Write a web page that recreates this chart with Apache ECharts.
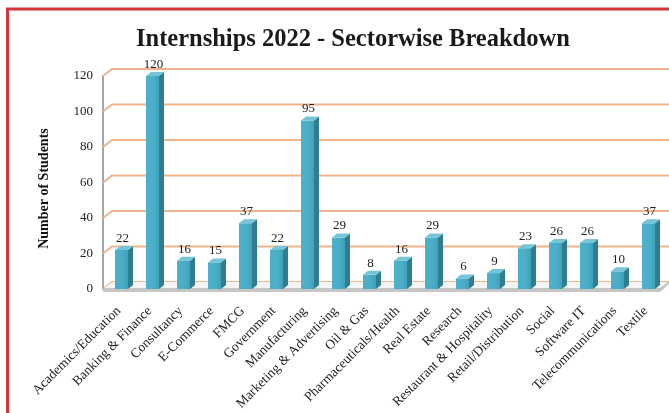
<!DOCTYPE html>
<html>
<head>
<meta charset="utf-8">
<script src="https://cdn.jsdelivr.net/npm/echarts@6/dist/echarts.min.js"></script>
<style>html,body{margin:0;padding:0;background:#fff;}#c{width:669px;height:413px;}</style>
</head>
<body>
<div id="c"></div>
<script>
var categories = ["Academics/Education","Banking & Finance","Consultancy","E-Commerce","FMCG","Government","Manufacturing","Marketing & Advertising","Oil & Gas","Pharmaceuticals/Health","Real Estate","Research","Restaurant & Hospitality","Retail/Distribution","Social","Software IT","Telecommunications","Textile"];
var students = [22,120,16,15,37,22,95,29,8,16,29,6,9,23,26,26,10,37];
var yTicks = [0,20,40,60,80,100,120];
var titleText = "Internships 2022 - Sectorwise Breakdown";
var yName = "Number of Students";

var FONT = "'Liberation Serif','Times New Roman',serif";
var DX = 9, DY = -7;   // back wall offset
var BW = 13, BDX = 5, BDY = -4; // bar front width / depth

var chart = echarts.init(document.getElementById('c'), null, {renderer: 'canvas'});

function gridLineItem(params, api) {
  var cs = params.coordSys;
  var p = api.coord([0, api.value(0)]);
  var x0 = cs.x - 3, y = p[1];
  return {
    type: 'polyline',
    shape: {points: [[x0, y], [x0 + DX, y + DY], [cs.x + cs.width + 20, y + DY]]},
    style: {stroke: '#efb48a', lineWidth: 2, fill: null},
    silent: true
  };
}

function floorItem(params, api) {
  var cs = params.coordSys;
  var x0 = cs.x - 3, x1 = cs.x + cs.width - 4, y = cs.y + cs.height;
  return {
    type: 'group',
    children: [
      {type: 'polygon', shape: {points: [[x0, y], [x1, y], [x1 + DX, y + DY], [x0 + DX, y + DY]]},
       style: {fill: '#f4f4f4'}},
      {type: 'polygon', shape: {points: [[x0, y - 1], [x1, y - 1], [x1 + DX, y + DY - 1], [x1 + DX, y + DY + 2], [x1, y + 3], [x0, y + 3]]},
       style: {fill: '#c6c6c6'}}
    ],
    silent: true
  };
}

function barItem(params, api) {
  var i = api.value(0), v = api.value(1);
  var top = api.coord([i, v]);
  var bot = api.coord([i, 0]);
  var cx = top[0], yt = top[1], yb = bot[1];
  var l = cx - BW / 2, r = cx + BW / 2;
  return {
    type: 'group',
    children: [
      {type: 'polygon', shape: {points: [[r, yt], [r + BDX, yt + BDY], [r + BDX, yb + BDY], [r, yb]]},
       style: {fill: '#2f7d90'}},
      {type: 'rect', shape: {x: l, y: yt, width: BW, height: yb - yt},
       style: {fill: new echarts.graphic.LinearGradient(0, 0, 1, 0, [
         {offset: 0, color: '#4db1ca'}, {offset: 0.6, color: '#4aaec7'}, {offset: 1, color: '#40a0b7'}])}},
      {type: 'polygon', shape: {points: [[l, yt], [l + BDX, yt + BDY], [r + BDX, yt + BDY], [r, yt]]},
       style: {fill: '#75c5d9'}},
      {type: 'text', style: {text: String(v), x: cx + 1, y: yt - 5, textAlign: 'center', textVerticalAlign: 'bottom',
        font: '13px ' + FONT, fill: '#222'}}
    ]
  };
}

var option = {
  backgroundColor: '#fff',
  animation: false,
  title: {
    text: titleText, left: 131, top: 22,
    textStyle: {fontFamily: FONT, fontSize: 24.5, fontWeight: 'bold', color: '#1a1a1a'}
  },
  graphic: [{
    type: 'rect', shape: {x: 7.5, y: 9, width: 700, height: 450},
    style: {fill: null, stroke: '#d6343b', lineWidth: 3}, z: 100, silent: true
  }],
  grid: {left: 106, right: 5, top: 76, bottom: 121},
  xAxis: {
    type: 'category', data: categories,
    axisLine: {show: false}, axisTick: {show: false},
    axisLabel: {rotate: 45, margin: 17, interval: 0, padding: [0, 4, 0, 0], fontFamily: FONT, fontSize: 13.5, color: '#222'}
  },
  yAxis: {
    type: 'value', min: 0, max: 120, interval: 20, offset: 3,
    name: yName, nameLocation: 'middle', nameGap: 52,
    nameTextStyle: {fontFamily: FONT, fontSize: 14, fontWeight: 'bold', color: '#111', padding: [0, 12, 0, 0]},
    axisLine: {show: true, lineStyle: {color: '#a6a6a6', width: 2}},
    axisTick: {show: false}, splitLine: {show: false},
    axisLabel: {margin: 10, fontFamily: FONT, fontSize: 13, color: '#222'}
  },
  series: [
    {type: 'custom', renderItem: gridLineItem, data: yTicks.map(function (t) { return [t]; }),
     encode: {y: 0}, z: 1, silent: true},
    {type: 'custom', renderItem: floorItem, data: [[0]], z: 2, silent: true},
    {type: 'custom', renderItem: barItem, data: students.map(function (v, i) { return [i, v]; }),
     encode: {x: 0, y: 1}, z: 3}
  ]
};
chart.setOption(option);
</script>
</body>
</html>
